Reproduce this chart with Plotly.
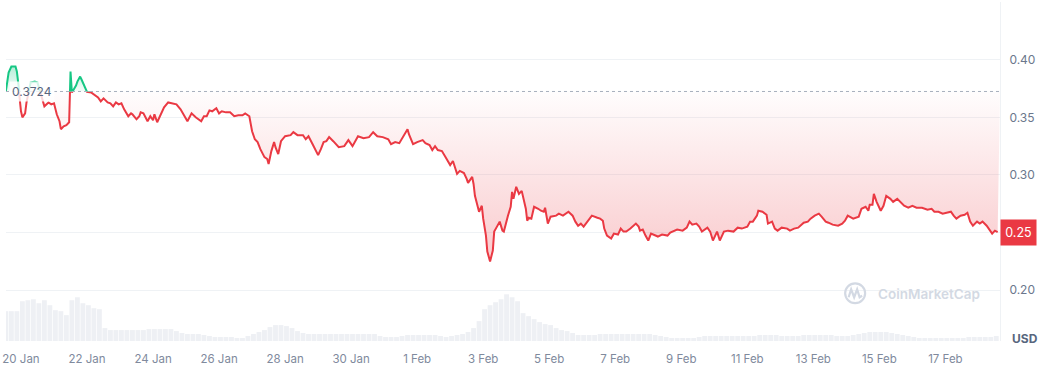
import pandas as pd
import plotly.graph_objects as go

START = pd.Timestamp("2025-01-20 00:00")

# ---- data ----
price_hours = [
    -11, -9, -7, -4, -3, -1, 0, 1, 3, 4,
    7, 10, 12,
    17, 20, 22, 24, 26, 28, 29, 31, 33, 35,
    36, 37, 38, 40, 41, 43, 44, 46, 48, 51,
    54, 56, 58, 60, 63, 65, 67, 69, 71, 73,
    75, 78, 80, 81, 84, 86, 87, 89, 92, 94,
    96, 97, 99, 102, 104, 107, 110, 113, 116, 118,
    121, 124, 127, 131, 133, 135, 137, 139, 142, 144,
    146, 149, 152, 155, 158, 161, 163, 166, 167, 168,
    170, 172, 174, 176, 177, 179, 180, 182, 184, 185,
    187, 189, 192, 196, 198, 201, 205, 207, 209, 212,
    214, 216, 218, 220, 222, 224, 227, 229, 231, 235,
    238, 241, 243, 245, 249, 253, 256, 259, 263, 267,
    269, 272, 275, 278, 281, 282, 285, 288, 292, 294,
    297, 299, 301, 303, 306, 309, 311, 312, 314, 317,
    319, 322, 324, 325, 328, 329, 330, 332, 333, 335,
    336, 338, 339, 340, 341, 343, 344, 346, 348, 350,
    351, 354, 356, 357, 358, 360, 362, 364, 365, 367,
    368, 369, 371, 373, 376, 378, 380, 381, 383, 385,
    389, 391, 394, 398, 401, 403, 405, 407, 409, 412,
    415, 419, 421, 423, 424, 426, 429, 431, 434, 436,
    438, 440, 443, 447, 449, 450, 452, 454, 456, 458,
    461, 463, 466, 470, 472, 474, 477, 481, 484, 486,
    488, 491, 493, 495, 499, 501, 503, 506, 508, 511,
    514, 518, 521, 524, 528, 530, 532, 535, 536, 539,
    542, 543, 546, 548, 550, 553, 557, 559, 562, 565,
    569, 572, 574, 577, 580, 582, 585, 587, 590, 594,
    597, 599, 601, 605, 609, 611, 614, 616, 617, 619,
    620, 622, 623, 625, 627, 629, 632, 634, 637, 639,
    642, 645, 648, 651, 655, 659, 662, 664, 667, 670,
    673, 676, 678, 680, 683, 686, 688, 690, 692, 695,
    697, 699, 702, 704, 706, 708, 710,
]

price_usd = [
    0.3724, 0.3888, 0.3940, 0.3940, 0.3897, 0.3655, 0.3552, 0.3500, 0.3534, 0.3629,
    0.3802, 0.3810, 0.3802,
    0.3595, 0.3629, 0.3612, 0.3621, 0.3526, 0.3466, 0.3397, 0.3422, 0.3431, 0.3457,
    0.3897, 0.3716, 0.3735, 0.3776, 0.3810, 0.3853, 0.3828, 0.3767, 0.3720, 0.3716,
    0.3690, 0.3672, 0.3638, 0.3664, 0.3629, 0.3621, 0.3595, 0.3629, 0.3612, 0.3621,
    0.3569, 0.3509, 0.3534, 0.3526, 0.3483, 0.3509, 0.3543, 0.3534, 0.3466, 0.3509,
    0.3474, 0.3526, 0.3457, 0.3543, 0.3586, 0.3629, 0.3621, 0.3612, 0.3569, 0.3526,
    0.3466, 0.3534, 0.3500, 0.3466, 0.3509, 0.3509, 0.3560, 0.3552, 0.3578, 0.3534,
    0.3552, 0.3543, 0.3543, 0.3509, 0.3517, 0.3517, 0.3534, 0.3509, 0.3457, 0.3379,
    0.3310, 0.3285, 0.3224, 0.3181, 0.3155, 0.3138, 0.3095, 0.3207, 0.3285, 0.3241,
    0.3181, 0.3293, 0.3336, 0.3345, 0.3371, 0.3345, 0.3345, 0.3310, 0.3336, 0.3267,
    0.3224, 0.3172, 0.3224, 0.3285, 0.3293, 0.3328, 0.3293, 0.3267, 0.3241, 0.3250,
    0.3302, 0.3250, 0.3293, 0.3336, 0.3319, 0.3328, 0.3371, 0.3336, 0.3328, 0.3310,
    0.3267, 0.3285, 0.3276, 0.3336, 0.3397, 0.3353, 0.3267, 0.3285, 0.3302, 0.3276,
    0.3259, 0.3216, 0.3250, 0.3216, 0.3207, 0.3147, 0.3112, 0.3086, 0.3121, 0.3009,
    0.3035, 0.3017, 0.2966, 0.2931, 0.2983, 0.2922, 0.2819, 0.2724, 0.2681, 0.2733,
    0.2621, 0.2474, 0.2336, 0.2293, 0.2250, 0.2345, 0.2509, 0.2552, 0.2595, 0.2517,
    0.2509, 0.2647, 0.2724, 0.2853, 0.2793, 0.2897, 0.2836, 0.2862, 0.2810, 0.2707,
    0.2603, 0.2629, 0.2621, 0.2724, 0.2707, 0.2690, 0.2681, 0.2716, 0.2578, 0.2638,
    0.2647, 0.2664, 0.2647, 0.2681, 0.2647, 0.2595, 0.2560, 0.2578, 0.2552, 0.2595,
    0.2647, 0.2629, 0.2621, 0.2603, 0.2535, 0.2474, 0.2448, 0.2491, 0.2483, 0.2535,
    0.2509, 0.2509, 0.2535, 0.2578, 0.2552, 0.2517, 0.2526, 0.2474, 0.2431, 0.2491,
    0.2474, 0.2466, 0.2483, 0.2474, 0.2500, 0.2509, 0.2526, 0.2517, 0.2543, 0.2595,
    0.2569, 0.2578, 0.2552, 0.2509, 0.2543, 0.2509, 0.2431, 0.2509, 0.2431, 0.2509,
    0.2517, 0.2509, 0.2543, 0.2535, 0.2552, 0.2595, 0.2595, 0.2647, 0.2690, 0.2681,
    0.2655, 0.2578, 0.2595, 0.2535, 0.2517, 0.2543, 0.2535, 0.2517, 0.2535, 0.2543,
    0.2586, 0.2595, 0.2621, 0.2647, 0.2664, 0.2638, 0.2595, 0.2586, 0.2569, 0.2560,
    0.2578, 0.2603, 0.2647, 0.2621, 0.2638, 0.2707, 0.2724, 0.2690, 0.2742, 0.2742,
    0.2836, 0.2767, 0.2742, 0.2690, 0.2733, 0.2819, 0.2793, 0.2767, 0.2793, 0.2767,
    0.2733, 0.2716, 0.2733, 0.2716, 0.2716, 0.2698, 0.2707, 0.2681, 0.2681, 0.2664,
    0.2672, 0.2681, 0.2647, 0.2621, 0.2647, 0.2655, 0.2672, 0.2595, 0.2560, 0.2595,
    0.2578, 0.2595, 0.2560, 0.2526, 0.2491, 0.2517, 0.2505,
]

open_price = 0.3724

volume_first_hour = -11
volume_step_hours = 4
volume_musd = [
    30, 30, 30, 40, 41, 42, 38, 41, 36, 31, 30, 26, 41, 44, 38, 36, 33, 32, 13, 11,
    11, 11, 11, 11, 11, 11, 12, 12, 12, 12, 12, 10, 8, 7, 7, 7, 6, 5, 4, 4,
    4, 4, 3, 3, 5, 7, 9, 11, 14, 16, 16, 15, 13, 10, 8, 7, 7, 7, 7, 7,
    7, 7, 7, 7, 7, 7, 7, 7, 5, 4, 4, 4, 5, 6, 6, 6, 6, 6, 6, 5,
    4, 5, 6, 7, 9, 13, 20, 32, 36, 39, 42, 47, 44, 40, 28, 25, 22, 19, 17, 16,
    13, 11, 10, 8, 6, 6, 6, 6, 7, 7, 7, 7, 7, 7, 7, 7, 7, 7, 6, 5,
    4, 3, 3, 3, 3, 3, 4, 5, 5, 5, 5, 5, 5, 5, 5, 5, 5, 6, 6, 6,
    6, 5, 5, 5, 5, 6, 6, 6, 6, 6, 6, 5, 5, 5, 6, 7, 8, 9, 9, 9,
    9, 8, 7, 6, 5, 4, 3, 3, 3, 3, 3, 3, 3, 3, 3, 4, 4, 4, 4, 4,
    5,
]

tick_dates = pd.date_range("2025-01-20", "2025-02-17", freq="2D")
tick_labels = ["20 Jan", "22 Jan", "24 Jan", "26 Jan", "28 Jan", "30 Jan", "1 Feb",
               "3 Feb", "5 Feb", "7 Feb", "9 Feb", "11 Feb", "13 Feb", "15 Feb", "17 Feb"]
price_tick_vals = [0.20, 0.25, 0.30, 0.35, 0.40, 0.45]
# 0.25 is hidden by the current-price tag in the reference
price_tick_text = ["0.20", "", "0.30", "0.35", "0.40", ""]

# ---- layout geometry ----
W, H = 1050, 368
ML, MR, MT, MB = 5, 50, 2, 25
Y_MIN, Y_MAX = 0.156, 0.450
X_MIN = START + pd.Timedelta(hours=-10.9)
X_MAX = START + pd.Timedelta(hours=711.7)
VOL_MAX = 341

RED = "#ea3943"
GREEN = "#16c784"
FONT = "Inter, Roboto, sans-serif"


def pxx(x):
    return (x - ML) / (W - ML - MR)


def pxy(y):
    return (H - MB - y) / (H - MT - MB)


times = [START + pd.Timedelta(hours=h) for h in price_hours]
vol_times = [START + pd.Timedelta(hours=volume_first_hour + volume_step_hours * i)
             for i in range(len(volume_musd))]
base_frac = (open_price - Y_MIN) / (Y_MAX - Y_MIN)

fig = go.Figure()

fig.add_trace(go.Bar(
    x=vol_times, y=volume_musd, yaxis="y2",
    marker=dict(color="#eef0f4", line=dict(width=0)),
    hoverinfo="skip", showlegend=False,
))

# below-open part (red), clipped by its own subplot
fig.add_trace(go.Scatter(
    x=[X_MIN, X_MAX], y=[open_price, open_price], yaxis="y3",
    mode="lines", line=dict(width=0, color="rgba(0,0,0,0)"),
    hoverinfo="skip", showlegend=False,
))
fig.add_trace(go.Scatter(
    x=times, y=price_usd, yaxis="y3", mode="lines",
    line=dict(color=RED, width=2),
    fill="tonexty",
    fillgradient=dict(type="vertical", start=0.24, stop=open_price,
                      colorscale=[[0, "rgba(234,57,67,0.24)"], [1, "rgba(234,57,67,0.01)"]]),
    hoverinfo="skip", showlegend=False,
))

# above-open part (green)
fig.add_trace(go.Scatter(
    x=[X_MIN, X_MAX], y=[open_price, open_price], yaxis="y4",
    mode="lines", line=dict(width=0, color="rgba(0,0,0,0)"),
    hoverinfo="skip", showlegend=False,
))
fig.add_trace(go.Scatter(
    x=times, y=price_usd, yaxis="y4", mode="lines",
    line=dict(color=GREEN, width=2),
    fill="tonexty",
    fillgradient=dict(type="vertical", start=open_price, stop=0.395,
                      colorscale=[[0, "rgba(22,199,132,0.04)"], [1, "rgba(22,199,132,0.32)"]]),
    hoverinfo="skip", showlegend=False,
))

fig.update_layout(
    width=W, height=H,
    margin=dict(l=ML, r=MR, t=MT, b=MB, pad=0),
    paper_bgcolor="white", plot_bgcolor="rgba(0,0,0,0)",
    font=dict(family=FONT),
    bargap=0.12,
    xaxis=dict(
        type="date", range=[X_MIN, X_MAX],
        tickvals=list(tick_dates), ticktext=tick_labels,
        showgrid=False, zeroline=False, showline=False,
        ticks="", ticklabelstandoff=9,
        tickfont=dict(size=11.5, color="#808a9d", family=FONT),
        anchor="y",
    ),
    yaxis=dict(
        side="right", range=[Y_MIN, Y_MAX],
        tickvals=price_tick_vals, ticktext=price_tick_text,
        showgrid=True, gridcolor="#eff2f5", gridwidth=1,
        zeroline=False, showline=True, linecolor="#eff2f5", linewidth=1,
        ticks="", ticklabelstandoff=6,
        tickfont=dict(size=12, color="#6b778c", family=FONT),
        domain=[0, 1], anchor="x",
    ),
    yaxis2=dict(overlaying="y", range=[0, VOL_MAX], visible=False, anchor="x"),
    yaxis3=dict(domain=[0, base_frac], range=[Y_MIN, open_price], visible=False, anchor="x"),
    yaxis4=dict(domain=[base_frac, 1], range=[open_price, Y_MAX], visible=False, anchor="x"),
)

# dotted open-price line
fig.add_shape(type="line", xref="paper", yref="y", x0=0, x1=1, y0=open_price, y1=open_price,
              line=dict(color="#a7afbd", width=1, dash="dot"), layer="above")

# watermark logo
wm = "#d3d9e3"
fig.add_shape(type="circle", xref="paper", yref="paper",
              x0=pxx(845), x1=pxx(865), y0=pxy(305), y1=pxy(285),
              line=dict(color=wm, width=2.2))
fig.add_shape(type="path", xref="paper", yref="paper",
              path=(f"M {pxx(848.5)} {pxy(299)} L {pxx(851)} {pxy(291)} L {pxx(854)} {pxy(299)} "
                    f"L {pxx(857)} {pxy(291)} L {pxx(859.5)} {pxy(299)} L {pxx(862)} {pxy(297.5)}"),
              line=dict(color=wm, width=2.2))

fig.add_annotation(text="CoinMarketCap", xref="paper", yref="paper",
                   x=pxx(929), y=pxy(295.5), xanchor="center", yanchor="middle",
                   showarrow=False,
                   font=dict(size=13.5, color=wm, family=FONT, weight=600))

fig.add_annotation(text=f"{open_price:.4f}", xref="paper", yref="y",
                   x=pxx(31), y=open_price, xanchor="center", yanchor="middle",
                   showarrow=False,
                   font=dict(size=12, color="#58667e", family=FONT),
                   bgcolor="rgba(255,255,255,0.8)", borderpad=2)

last = price_usd[-1]
fig.add_annotation(text=f"{last:.2f}", xref="paper", yref="y",
                   x=1, y=last, xanchor="left", yanchor="middle", showarrow=False,
                   font=dict(size=12.5, color="white", family=FONT),
                   bgcolor=RED, width=31, height=21, borderpad=2)

fig.add_annotation(text="<b>USD</b>", xref="paper", yref="paper",
                   x=pxx(1025), y=pxy(340), xanchor="center", yanchor="middle",
                   showarrow=False,
                   font=dict(size=12, color="#58667e", family=FONT))

fig.write_html("out.html")
